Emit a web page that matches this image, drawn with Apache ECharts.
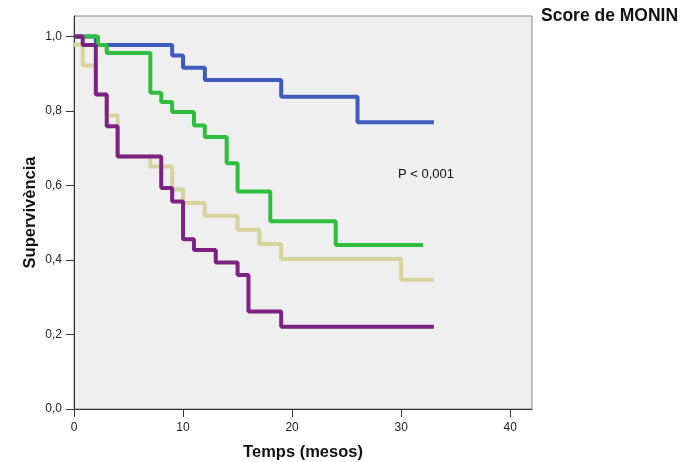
<!DOCTYPE html>
<html>
<head>
<meta charset="utf-8">
<script src="https://cdn.jsdelivr.net/npm/echarts@6/dist/echarts.min.js"></script>
<style>html,body{margin:0;padding:0;background:#fff}#c{width:690px;height:462px}</style>
</head>
<body>
<div id="c"></div>
<script>
// Kaplan-Meier step data (time in months, survival)
const blueTimes   = [0, 2, 9, 10, 12, 19, 26, 33];
const blueSurv    = [1, 0.977, 0.949, 0.916, 0.883, 0.838, 0.770, 0.770];
const tanTimes    = [0, 0.8, 2, 3, 4, 7, 9, 10, 12, 15, 17, 19, 30, 33];
const tanSurv     = [0.978, 0.922, 0.845, 0.788, 0.678, 0.651, 0.589, 0.553, 0.519, 0.481, 0.443, 0.403, 0.347, 0.347];
const greenTimes  = [0, 2.2, 3, 7, 8, 9, 11, 12, 14, 15, 18, 24, 32];
const greenSurv   = [1, 0.977, 0.956, 0.849, 0.824, 0.797, 0.761, 0.730, 0.660, 0.584, 0.504, 0.440, 0.440];
const purpleTimes = [0, 0.8, 2, 3, 4, 8, 9, 10, 11, 13, 15, 16, 19, 33];
const purpleSurv  = [1, 0.977, 0.844, 0.759, 0.678, 0.593, 0.557, 0.456, 0.427, 0.393, 0.360, 0.262, 0.221, 0.221];
const xTicks = [0, 10, 20, 30, 40];
const yTicks = [0, 0.2, 0.4, 0.6, 0.8, 1.0];

function pts(t, s) { return t.map((v, i) => [v, s[i]]); }
function ser(name, t, s, color) {
  return { name, type: 'line', step: 'end', data: pts(t, s), symbol: 'none',
    lineStyle: { color, width: 4 }, itemStyle: { color }, animation: false };
}
const chart = echarts.init(document.getElementById('c'));
const fmt = v => v.toFixed(1).replace('.', ',');
chart.setOption({
  backgroundColor: '#ffffff',
  animation: false,
  grid: { left: 74, right: 158, top: 16, bottom: 53, outerBoundsMode: 'none', containLabel: false,
    show: true, backgroundColor: '#efefef', borderColor: '#8a8a8a', borderWidth: 1 },
  xAxis: {
    type: 'value', min: 0, max: 42, interval: 10,
    name: 'Temps (mesos)', nameLocation: 'middle', nameGap: 35, nameMoveOverlap: false,
    nameTextStyle: { fontFamily: 'Liberation Sans', fontWeight: 'bold', fontSize: 16.5, color: '#111' },
    axisLine: { show: true, lineStyle: { color: '#333', width: 1 } },
    axisTick: { show: true, length: 8, customValues: xTicks, lineStyle: { color: '#333' } },
    axisLabel: { customValues: xTicks, fontFamily: 'Liberation Sans', fontSize: 12, color: '#222', margin: 13 },
    splitLine: { show: false }
  },
  yAxis: {
    type: 'value', min: 0, max: 1.055, interval: 0.2,
    name: 'Supervivència', nameLocation: 'middle', nameGap: 35, nameRotate: 90, nameMoveOverlap: false,
    nameTextStyle: { fontFamily: 'Liberation Sans', fontWeight: 'bold', fontSize: 16.5, color: '#111' },
    axisLine: { show: true, lineStyle: { color: '#333', width: 1 } },
    axisTick: { show: true, length: 8, customValues: yTicks, lineStyle: { color: '#333' } },
    axisLabel: { customValues: yTicks, formatter: fmt, fontFamily: 'Liberation Sans', fontSize: 12, color: '#222', margin: 12 },
    splitLine: { show: false }
  },
  series: [
    ser('1', blueTimes, blueSurv, '#3f5bbd'),
    ser('2', tanTimes, tanSurv, '#d7d39c'),
    ser('3', greenTimes, greenSurv, '#2fbf3f'),
    ser('4', purpleTimes, purpleSurv, '#7c2283')
  ],
  graphic: [
    { type: 'text', left: 541, top: 7, style: { text: 'Score de MONIN', fontFamily: 'Liberation Sans', fontWeight: 'bold', fontSize: 17.5, fill: '#111' } },
    { type: 'text', left: 398, top: 168, style: { text: 'P < 0,001', fontFamily: 'Liberation Sans', fontSize: 13, fill: '#111' } }
  ]
});
</script>
</body>
</html>
